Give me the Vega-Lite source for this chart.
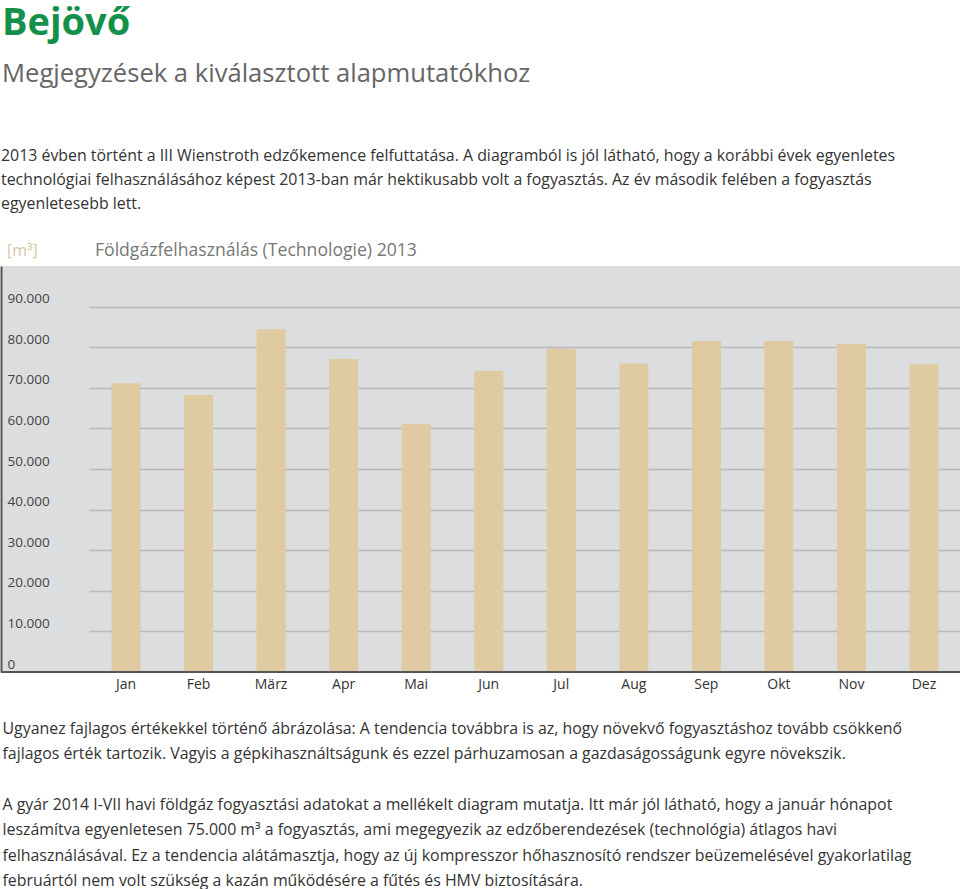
{
  "$schema": "https://vega.github.io/schema/vega-lite/v6.json",
  "padding": {"top": 4, "left": 0, "right": 0, "bottom": 0},
  "background": "white",
  "autosize": {"type": "pad"},
  "config": {
    "font": "Open Sans",
    "view": {"stroke": null},
    "concat": {"spacing": 0}
  },
  "title": {
    "text": "Bejövő",
    "subtitle": "Megjegyzések a kiválasztott alapmutatókhoz",
    "anchor": "start",
    "frame": "group",
    "font": "Open Sans",
    "fontSize": 38,
    "fontWeight": "bold",
    "color": "#15904b",
    "subtitleFont": "Open Sans",
    "subtitleFontSize": 25.6,
    "subtitleColor": "#666666",
    "subtitlePadding": 19,
    "offset": 60,
    "dx": 1
  },
  "datasets": {
    "gas": [
      {"month": "Jan", "m3": 71100},
      {"month": "Feb", "m3": 68200},
      {"month": "März", "m3": 84400},
      {"month": "Apr", "m3": 77100},
      {"month": "Mai", "m3": 61100},
      {"month": "Jun", "m3": 74200},
      {"month": "Jul", "m3": 79600},
      {"month": "Aug", "m3": 76000},
      {"month": "Sep", "m3": 81500},
      {"month": "Okt", "m3": 81500},
      {"month": "Nov", "m3": 80800},
      {"month": "Dez", "m3": 75800}
    ]
  },
  "vconcat": [
    {
      "title": {
        "text": [
          "2013 évben történt a III Wienstroth edzőkemence felfuttatása. A diagramból is jól látható, hogy a korábbi évek egyenletes",
          "technológiai felhasználásához képest 2013-ban már hektikusabb volt a fogyasztás. Az év második felében a fogyasztás",
          "egyenletesebb lett."
        ],
        "anchor": "start",
        "frame": "group",
        "font": "Open Sans",
        "fontSize": 15.9,
        "fontWeight": "normal",
        "color": "#333333",
        "lineHeight": 24,
        "offset": 31
      },
      "bounds": "flush",
      "spacing": 0,
      "hconcat": [
        {
          "width": 88,
          "height": 406,
          "view": {"fill": "#dcdddf", "stroke": null},
          "title": {
            "text": "[m³]",
            "anchor": "start",
            "frame": "group",
            "font": "Open Sans",
            "fontSize": 16,
            "fontWeight": "normal",
            "color": "#d6c8a6",
            "dx": 6,
            "offset": 7
          },
          "data": {"name": "gas"},
          "layer": [
            {
              "mark": {"type": "tick", "opacity": 0},
              "encoding": {
                "y": {
                  "field": "m3",
                  "type": "quantitative",
                  "scale": {"domain": [0, 100000], "nice": false},
                  "axis": {
                    "orient": "left",
                    "values": [0, 10000, 20000, 30000, 40000, 50000, 60000, 70000, 80000, 90000],
                    "labelExpr": "replace(format(datum.value, ',d'), ',', '.')",
                    "ticks": false,
                    "grid": false,
                    "domain": true,
                    "domainColor": "#555555",
                    "domainWidth": 2,
                    "labelAlign": "left",
                    "labelPadding": -6,
                    "labelBaseline": "alphabetic",
                    "labelOffset": -4,
                    "labelFlush": false,
                    "labelOverlap": false,
                    "labelFont": "Open Sans",
                    "labelFontSize": 13.5,
                    "labelColor": "#444444",
                    "title": null
                  }
                }
              }
            },
            {
              "mark": {"type": "rule", "color": "#555555", "strokeWidth": 2},
              "encoding": {"y": {"datum": 0}}
            }
          ]
        },
        {
          "width": 872,
          "height": 406,
          "view": {"fill": "#dcdddf", "stroke": null},
          "title": {
            "text": "Földgázfelhasználás (Technologie) 2013",
            "anchor": "start",
            "frame": "group",
            "font": "Open Sans",
            "fontSize": 17.6,
            "fontWeight": "normal",
            "color": "#777777",
            "dx": 6,
            "offset": 6
          },
          "data": {"name": "gas"},
          "layer": [
            {
              "mark": {"type": "bar", "color": "#dfcaa2"},
              "encoding": {
                "x": {
                  "field": "month",
                  "type": "nominal",
                  "sort": null,
                  "scale": {"paddingInner": 0.6, "paddingOuter": 0.31},
                  "axis": {
                    "orient": "bottom",
                    "ticks": false,
                    "domain": false,
                    "labelAngle": 0,
                    "labelPadding": 5,
                    "labelFont": "Open Sans",
                    "labelFontSize": 14,
                    "labelColor": "#333333",
                    "title": [
                      "Ugyanez fajlagos értékekkel történő ábrázolása: A tendencia továbbra is az, hogy növekvő fogyasztáshoz tovább csökkenő",
                      "fajlagos érték tartozik. Vagyis a gépkihasználtságunk és ezzel párhuzamosan a gazdaságosságunk egyre növekszik.",
                      "\u200b",
                      "A gyár 2014 I-VII havi földgáz fogyasztási adatokat a mellékelt diagram mutatja. Itt már jól látható, hogy a január hónapot",
                      "leszámítva egyenletesen 75.000 m³ a fogyasztás, ami megegyezik az edzőberendezések (technológia) átlagos havi",
                      "felhasználásával. Ez a tendencia alátámasztja, hogy az új kompresszor hőhasznosító rendszer beüzemelésével gyakorlatilag",
                      "februártól nem volt szükség a kazán működésére a fűtés és HMV biztosítására."
                    ],
                    "titleX": -87,
                    "titleY": 61,
                    "titleAlign": "left",
                    "titleAnchor": "start",
                    "titleBaseline": "alphabetic",
                    "titleFont": "Open Sans",
                    "titleFontSize": 15.9,
                    "titleFontWeight": "normal",
                    "titleColor": "#333333",
                    "titleLineHeight": 25.4
                  }
                },
                "y": {
                  "field": "m3",
                  "type": "quantitative",
                  "scale": {"domain": [0, 100000], "nice": false},
                  "axis": {
                    "values": [10000, 20000, 30000, 40000, 50000, 60000, 70000, 80000, 90000],
                    "grid": true,
                    "gridColor": "#b8b9bb",
                    "gridWidth": 1.5,
                    "labels": false,
                    "ticks": false,
                    "domain": false,
                    "title": null
                  }
                }
              }
            },
            {
              "mark": {"type": "rule", "color": "#555555", "strokeWidth": 2},
              "encoding": {"y": {"datum": 0}}
            }
          ]
        }
      ]
    }
  ]
}
